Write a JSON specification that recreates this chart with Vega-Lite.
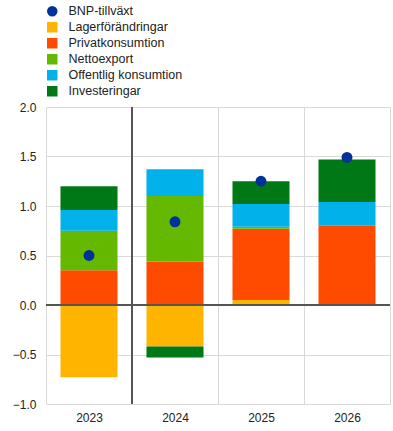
{
  "$schema": "https://vega.github.io/schema/vega-lite/v6.json",
  "width": 344,
  "height": 297,
  "autosize": {"type": "none"},
  "padding": {"left": 46, "top": 107, "right": 3, "bottom": 27},
  "background": "white",
  "config": {
    "view": {"stroke": null},
    "font": "Liberation Sans",
    "axis": {"labelFont": "Liberation Sans", "labelFontSize": 12, "labelColor": "#222222", "gridColor": "#d9d9d9", "gridWidth": 1, "domain": false, "ticks": false, "title": null}
  },
  "data": {
    "values": [
      {"year": "2023", "series": "Lagerförändringar", "rank": 1, "value": -0.73},
      {"year": "2023", "series": "Privatkonsumtion", "rank": 2, "value": 0.35},
      {"year": "2023", "series": "Nettoexport", "rank": 3, "value": 0.40},
      {"year": "2023", "series": "Offentlig konsumtion", "rank": 4, "value": 0.21},
      {"year": "2023", "series": "Investeringar", "rank": 5, "value": 0.24},
      {"year": "2023", "series": "BNP-tillväxt", "rank": 0, "value": 0.50},
      {"year": "2024", "series": "Lagerförändringar", "rank": 1, "value": -0.42},
      {"year": "2024", "series": "Privatkonsumtion", "rank": 2, "value": 0.44},
      {"year": "2024", "series": "Nettoexport", "rank": 3, "value": 0.66},
      {"year": "2024", "series": "Offentlig konsumtion", "rank": 4, "value": 0.27},
      {"year": "2024", "series": "Investeringar", "rank": 5, "value": -0.11},
      {"year": "2024", "series": "BNP-tillväxt", "rank": 0, "value": 0.84},
      {"year": "2025", "series": "Lagerförändringar", "rank": 1, "value": 0.05},
      {"year": "2025", "series": "Privatkonsumtion", "rank": 2, "value": 0.72},
      {"year": "2025", "series": "Nettoexport", "rank": 3, "value": 0.02},
      {"year": "2025", "series": "Offentlig konsumtion", "rank": 4, "value": 0.23},
      {"year": "2025", "series": "Investeringar", "rank": 5, "value": 0.23},
      {"year": "2025", "series": "BNP-tillväxt", "rank": 0, "value": 1.25},
      {"year": "2026", "series": "Lagerförändringar", "rank": 1, "value": 0.0},
      {"year": "2026", "series": "Privatkonsumtion", "rank": 2, "value": 0.80},
      {"year": "2026", "series": "Nettoexport", "rank": 3, "value": 0.0},
      {"year": "2026", "series": "Offentlig konsumtion", "rank": 4, "value": 0.24},
      {"year": "2026", "series": "Investeringar", "rank": 5, "value": 0.43},
      {"year": "2026", "series": "BNP-tillväxt", "rank": 0, "value": 1.49}
    ]
  },
  "encoding": {
    "x": {
      "field": "year", "type": "nominal",
      "scale": {"paddingInner": 0, "paddingOuter": 0},
      "axis": {"labelAngle": 0, "grid": true, "tickBand": "extent", "labelPadding": 8}
    }
  },
  "layer": [
    {
      "transform": [{"filter": "datum.series !== 'BNP-tillväxt'"}],
      "mark": {"type": "bar", "width": {"band": 0.663}},
      "encoding": {
        "y": {
          "field": "value", "type": "quantitative", "stack": "zero",
          "scale": {"domain": [-1, 2], "nice": false},
          "axis": {"values": [-1, -0.5, 0, 0.5, 1, 1.5, 2], "format": ".1f", "labelPadding": 10, "grid": true}
        },
        "order": {"field": "rank", "type": "quantitative", "sort": "ascending"},
        "color": {
          "field": "series", "type": "nominal",
          "scale": {
            "domain": ["BNP-tillväxt", "Lagerförändringar", "Privatkonsumtion", "Nettoexport", "Offentlig konsumtion", "Investeringar"],
            "range": ["#003299", "#FFB400", "#FF4B00", "#65B800", "#00B1EA", "#007816"]
          },
          "legend": {
            "title": null, "orient": "none", "legendX": 0, "legendY": -102,
            "labelFont": "Liberation Sans", "labelFontSize": 12.5, "labelColor": "#222222",
            "symbolSize": 110, "labelOffset": 10, "rowPadding": 3, "symbolStrokeWidth": 0
          }
        }
      }
    },
    {
      "mark": {"type": "rule", "color": "#555555", "strokeWidth": 2},
      "encoding": {"y": {"datum": 0, "type": "quantitative"}, "x": null}
    },
    {
      "transform": [{"filter": "datum.series === 'BNP-tillväxt' && datum.year === '2024'"}],
      "mark": {"type": "rule", "color": "#555555", "strokeWidth": 2},
      "encoding": {
        "x": {"field": "year", "type": "nominal", "bandPosition": 0},
        "y": {"datum": -1, "type": "quantitative"},
        "y2": {"datum": 2}
      }
    },
    {
      "transform": [{"filter": "datum.series === 'BNP-tillväxt'"}],
      "mark": {"type": "point", "filled": true, "size": 120, "opacity": 1},
      "encoding": {
        "y": {"field": "value", "type": "quantitative"},
        "color": {"field": "series", "type": "nominal"},
        "shape": {
          "field": "series", "type": "nominal",
          "scale": {
            "domain": ["BNP-tillväxt", "Lagerförändringar", "Privatkonsumtion", "Nettoexport", "Offentlig konsumtion", "Investeringar"],
            "range": ["circle", "square", "square", "square", "square", "square"]
          },
          "legend": {"title": null}
        }
      }
    }
  ]
}
